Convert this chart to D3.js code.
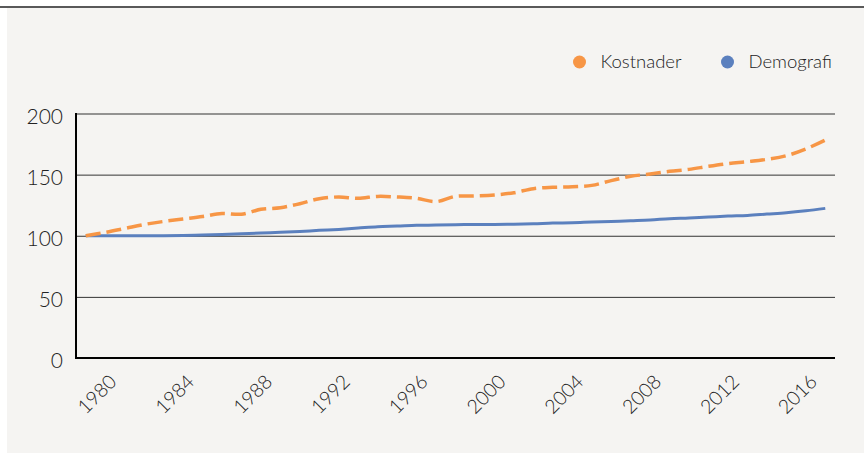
<!DOCTYPE html>
<html>
<head>
<meta charset="utf-8">
<script src="https://cdn.jsdelivr.net/npm/d3@7"></script>
<style>
  html, body { margin: 0; padding: 0; background: #ffffff; }
  svg { display: block; }
  text { font-family: Lato, "Open Sans", sans-serif; font-weight: 300; fill: #222; }
</style>
</head>
<body>
<svg id="chart" width="864" height="454"></svg>
<script>
const years = [1979,1980,1981,1982,1983,1984,1985,1986,1987,1988,1989,1990,1991,1992,1993,1994,1995,1996,1997,1998,1999,2000,2001,2002,2003,2004,2005,2006,2007,2008,2009,2010,2011,2012,2013,2014,2015,2016,2017];
const tickYears = [1980,1984,1988,1992,1996,2000,2004,2008,2012,2016];
const kostnader = [100,102.7,105.9,109.2,111.7,113.7,115.7,118.2,117.6,121.6,122.9,126.2,130.3,131.7,130.6,132.2,131.7,130.6,127.9,132.2,132.5,133.3,135.2,138.5,139.6,140.1,141.2,145.1,148.6,150.5,152.7,154.3,156.8,159.0,160.6,162.5,165.5,171.0,178.3];
const demografi = [100,100,100,100,100.1,100.3,100.6,101,101.6,102.3,102.8,103.5,104.4,105.2,106.3,107.4,107.9,108.5,108.7,109,109.3,109.3,109.5,109.8,110.4,110.6,111.2,111.7,112.3,112.9,113.9,114.5,115.3,116.1,116.6,117.7,118.8,120.4,122.4];
const yTicks = [0,50,100,150,200];
const seriesNames = ["Kostnader","Demografi"];
const colors = ["#f79646","#5b80be"];

(function(){
const svg = d3.select("#chart");

// background panel + top rule
svg.append("rect").attr("x",7).attr("y",8).attr("width",857).attr("height",445).attr("fill","#f5f4f2");
svg.append("line").attr("x1",0).attr("x2",864).attr("y1",7).attr("y2",7).attr("stroke","#222").attr("stroke-width",1.5);

const mLeft = 76, mRight = 835, mTop = 113.5, mBottom = 358;
const x = d3.scalePoint().domain(years).range([mLeft,mRight]).padding(0.5);
const y = d3.scaleLinear().domain([0,200]).range([mBottom,mTop]);

// gridlines
const yAxis = d3.axisLeft(y).tickValues(yTicks).tickSize(-(mRight-mLeft)).tickFormat(d3.format("d")).tickPadding(13);
const gy = svg.append("g").attr("transform",`translate(${mLeft},0)`).call(yAxis);
gy.select(".domain").remove();
gy.selectAll(".tick line").attr("stroke","#333").attr("stroke-width",1);
gy.selectAll(".tick text").attr("font-size",21).attr("dy","0.46em").style("font-family","Lato, 'Open Sans', sans-serif").style("font-weight",300).attr("fill","#222");

// x axis labels
const xAxis = d3.axisBottom(x).tickValues(tickYears).tickSize(0).tickFormat(d3.format("d"));
const gx = svg.append("g").attr("transform",`translate(0,${mBottom})`).call(xAxis);
gx.select(".domain").remove();
gx.selectAll(".tick text")
  .attr("font-size",19.5)
  .attr("text-anchor","end")
  .attr("dy",null).attr("y",null)
  .attr("transform","translate(12,25) rotate(-45)")
  .style("font-family","Lato, 'Open Sans', sans-serif").style("font-weight",300).attr("fill","#222");

// axes lines
svg.append("line").attr("x1",mLeft).attr("x2",mLeft).attr("y1",mTop-0.5).attr("y2",mBottom+1).attr("stroke","#000").attr("stroke-width",2);
svg.append("line").attr("x1",mLeft).attr("x2",mRight).attr("y1",mBottom).attr("y2",mBottom).attr("stroke","#000").attr("stroke-width",2);

// lines
const line = d3.line().x((d,i)=>x(years[i])).y(d=>y(d)).curve(d3.curveCatmullRom.alpha(0.5));
svg.append("path").datum(demografi).attr("d",line).attr("fill","none").attr("stroke",colors[1]).attr("stroke-width",3);
svg.append("path").datum(kostnader).attr("d",line).attr("fill","none").attr("stroke",colors[0]).attr("stroke-width",3.5).attr("stroke-dasharray","15,6");

// legend
const legendX = [579.5, 727.5];
seriesNames.forEach((n,i)=>{
  svg.append("circle").attr("cx",legendX[i]).attr("cy",62).attr("r",6.5).attr("fill",colors[i]);
  svg.append("text").attr("x",legendX[i]+21).attr("y",68).attr("font-size",18.5).text(n);
});
})();
</script>
</body>
</html>
